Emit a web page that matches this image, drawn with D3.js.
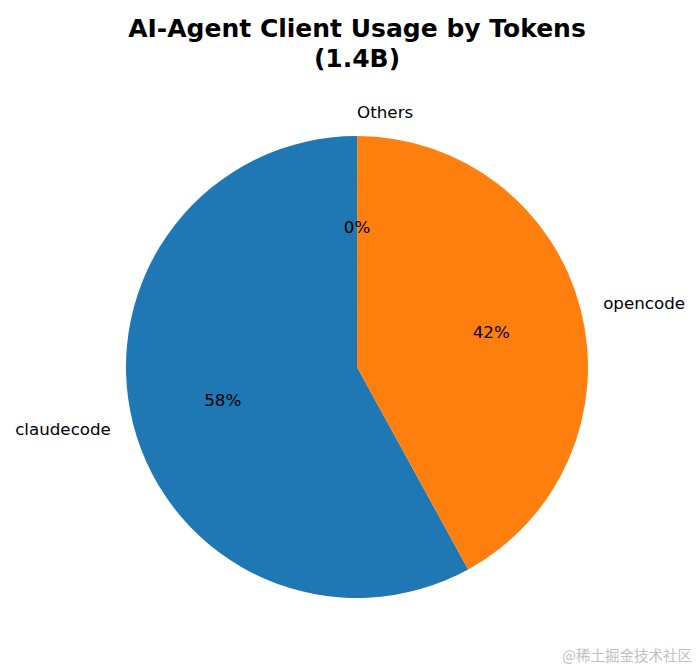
<!DOCTYPE html>
<html><head><meta charset="utf-8">
<script src="https://cdn.jsdelivr.net/npm/d3@7"></script>
<style>body{margin:0;background:#fff}svg{display:block}</style>
</head><body>
<script>
const categories = ["claudecode", "opencode", "Others"];
const values = [0.812, 0.588, 0.0002]; // billions of tokens
const colors = ["#1f77b4", "#ff7f0e", "#2ca02c"];
const titleLines = ["AI-Agent Client Usage by Tokens", "(1.4B)"];

const W = 699, H = 671, cx = 357, cy = 367, R = 231;
const svg = d3.select("body").append("svg").attr("width", W).attr("height", H);

// matplotlib style: start at 90deg, counterclockwise
const total = d3.sum(values);
const pie = d3.pie().sort(null).value(d => d)
  .startAngle(0).endAngle(-2 * Math.PI);
const arcs = pie(values);
const arc = d3.arc().innerRadius(0).outerRadius(R);

const g = svg.append("g").attr("transform", `translate(${cx},${cy})`);
g.selectAll("path").data(arcs).enter().append("path")
  .attr("d", arc).attr("fill", (d, i) => colors[i]);

const font = "'DejaVu Sans', sans-serif";
arcs.forEach((d, i) => {
  const a = (d.startAngle + d.endAngle) / 2; // d3 angle: 0 at top, clockwise
  const x = Math.sin(a), y = -Math.cos(a);
  const lx = x * R * 1.1, ly = y * R * 1.1;
  const anchor = x > 1e-9 ? "start" : (x < -1e-9 ? "end" : "start");
  g.append("text").attr("x", lx).attr("y", ly - 1)
    .attr("text-anchor", i === 2 ? "start" : anchor).attr("dominant-baseline", "central")
    .style("font-family", font).style("font-size", "16.7px").attr("fill", "#000")
    .text(categories[i]);
  g.append("text").attr("x", x * R * 0.6).attr("y", y * R * 0.6 - 1)
    .attr("text-anchor", "middle").attr("dominant-baseline", "central")
    .style("font-family", font).style("font-size", "16.7px").attr("fill", "#000")
    .text(Math.round(values[i] / total * 100) + "%");
});

titleLines.forEach((t, i) => {
  svg.append("text").attr("x", cx).attr("y", 37 + i * 30)
    .attr("text-anchor", "middle")
    .style("font-family", font).style("font-weight", "bold").style("font-size", "25px")
    .text(t);
});

svg.append("text").attr("x", 692).attr("y", 661).attr("text-anchor", "end")
  .style("font-family", "'Noto Sans CJK SC', sans-serif").style("font-size", "14.5px")
  .attr("fill", "#c0c0c0").text("@稀土掘金技术社区");
</script>
</body></html>
